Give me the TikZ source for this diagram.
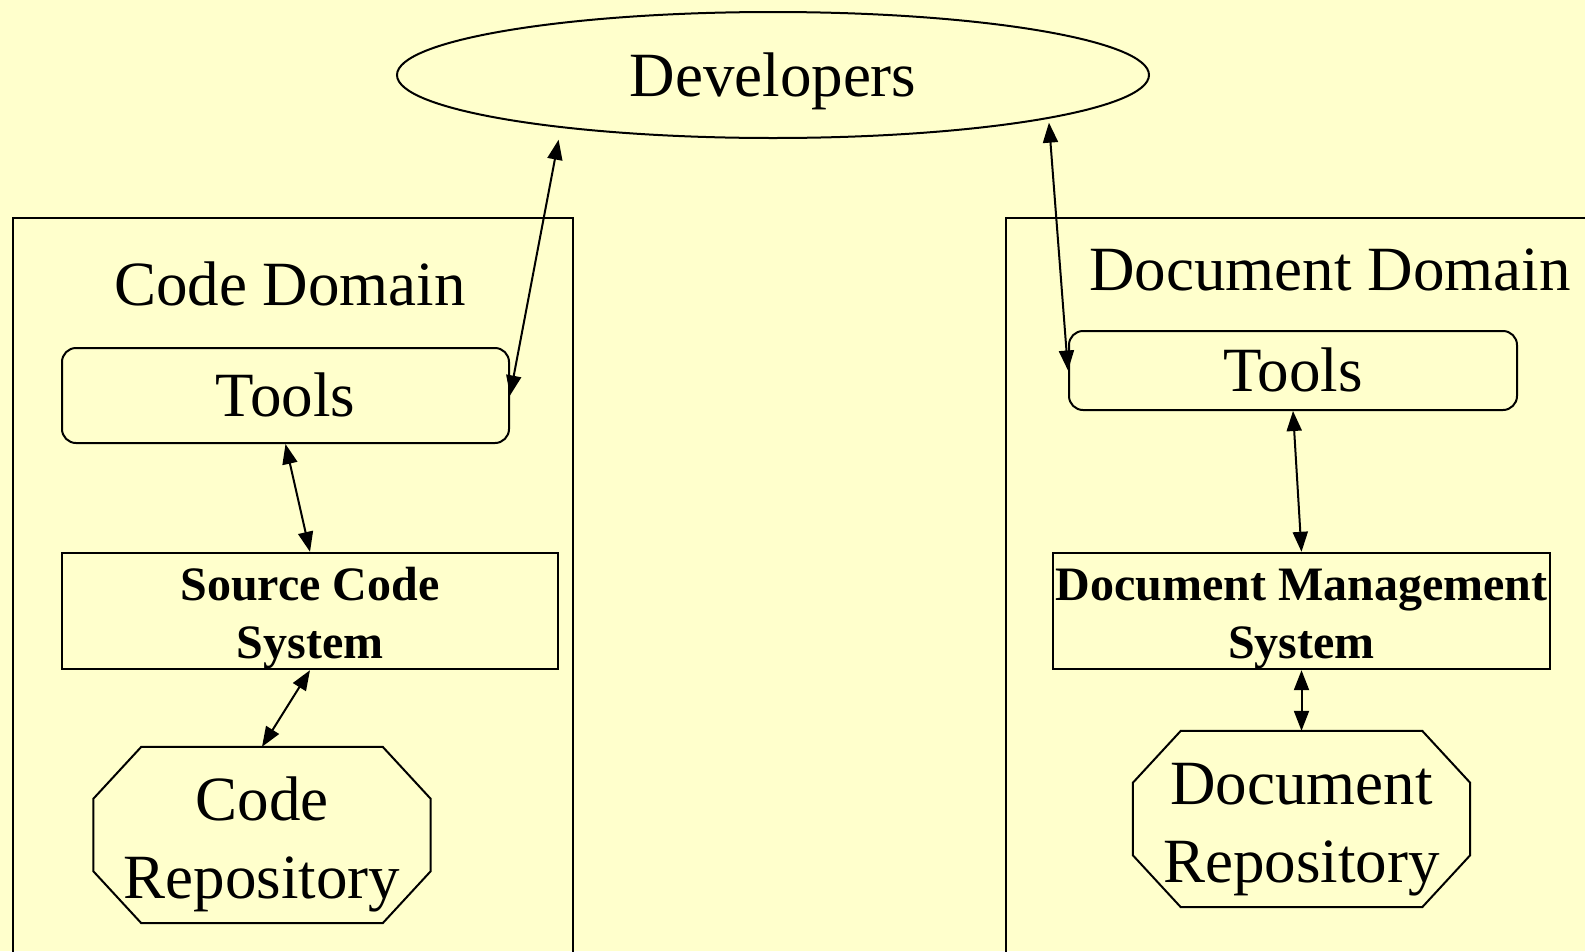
\documentclass[tikz,border=0pt]{standalone}
\usepackage{fontspec}
\setmainfont{Liberation Serif}
\usetikzlibrary{shapes.geometric,arrows.meta}

\definecolor{paper}{HTML}{FFFFCC}

\begin{document}
\begin{tikzpicture}[x=1pt, y=-1pt,
        big/.style={font=\fontsize{63}{78}\selectfont},
        oneline/.style={big, text height=42pt, text depth=0pt},
        tool/.style={draw, rounded corners=14pt, line width=2pt, inner sep=0pt, oneline},
        sysbox/.style={draw, line width=2pt, inner sep=0pt, align=center, text height=106pt,
                       font=\bfseries\fontsize{48}{58}\selectfont},
        repo/.style={inner sep=0pt, align=center, text height=140pt, big,
                     minimum width=337pt, minimum height=176pt},
        link/.style={line width=2pt,
                     {Triangle[length=20pt,width=15pt]}-{Triangle[length=20pt,width=15pt]}}]
        % Page:
        \fill[paper] (0, 0) rectangle (1585, 951);
        \useasboundingbox (0, 0) rectangle (1585, 951);
        \clip (0, 0) rectangle (1585, 951);

        % Domains:
        \draw[line width=2pt] (13, 218) rectangle (573, 970);
        \draw[line width=2pt] (1006, 218) rectangle (1610, 970);
        \node[oneline] (codedom) at (290, 284) {Code Domain};
        \node[oneline] (docdom) at (1330, 269) {Document Domain};

        % Developers:
        \node[draw, ellipse, line width=2pt, inner sep=0pt, minimum width=752pt,
              minimum height=126pt, oneline] (dev) at (773, 75) {Developers};

        % Code side
        \node[tool, minimum width=447pt, minimum height=95pt] (ctools) at (285.5, 395.5) {Tools};
        \node[sysbox, minimum width=496pt, minimum height=112pt] (scs) at (310, 611) {Source Code\\System};
        \node[repo] (crepo) at (262, 835) {Code\\Repository};

        % Document side
        \node[tool, minimum width=448pt, minimum height=79pt] (dtools) at (1293, 370.5) {Tools};
        \node[sysbox, minimum width=497pt, minimum height=112pt] (dms) at (1301.5, 611) {Document Management\\System};
        \node[repo] (drepo) at (1301.5, 819) {Document\\Repository};

        % Repository outlines (octagons)
        \foreach \r in {crepo, drepo}
            \draw[line width=2pt] ([xshift=48pt]\r.north west) -- ([xshift=-48pt]\r.north east)
                -- ([yshift=-52pt]\r.north east) -- ([yshift=52pt]\r.south east)
                -- ([xshift=-48pt]\r.south east) -- ([xshift=48pt]\r.south west)
                -- ([yshift=52pt]\r.south west) -- ([yshift=-52pt]\r.north west) -- cycle;

        % Links
        \draw[link, shorten >=12pt] (ctools.east) -- (dev.194.4);
        \draw[link, shorten >=4pt] (dtools.west) -- (dev.351.2);
        \draw[link] (ctools.south) -- (scs.north);
        \draw[link] (scs.south) -- (crepo.north);
        \draw[link] (dtools.south) -- (dms.north);
        \draw[link] (dms.south) -- (drepo.north);
\end{tikzpicture}
\end{document}
